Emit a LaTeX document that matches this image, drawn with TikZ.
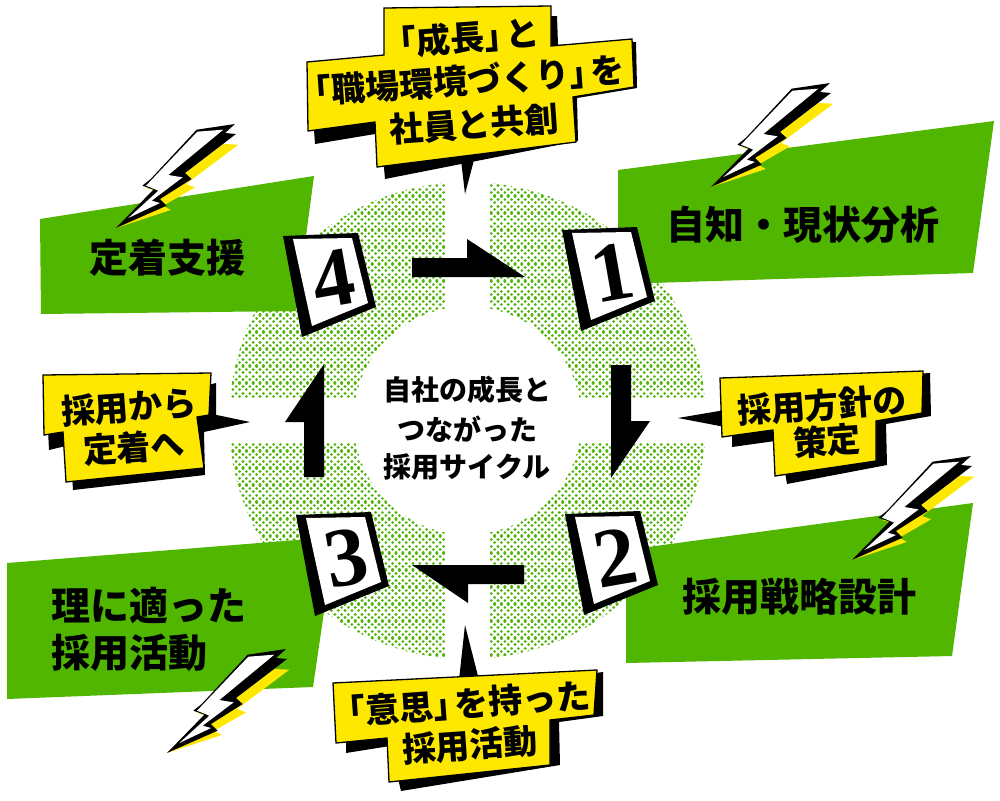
\documentclass[tikz,border=0pt]{standalone}
\usepackage{fontspec}
\newfontfamily\cjkblack{Noto Sans CJK JP Black}
\newfontfamily\cjkbold{Noto Sans CJK JP Bold}
\newfontfamily\digitfont{Liberation Serif Bold}
\definecolor{leaf}{RGB}{80,182,0}
\definecolor{dotgreen}{RGB}{80,182,8}
\definecolor{sun}{RGB}{255,232,0}
\newcommand{\tight}{\hspace{-.38em}}
\tikzset{
  greenbox/.style={fill=leaf,draw=none},
  yellowbox/.style={fill=sun,draw=black,line width=1.3pt,line join=miter},
  shadowbox/.style={fill=black,draw=none},
  greenlabel/.style={font=\cjkblack\fontsize{39}{39}\selectfont,inner sep=0pt,text=black},
  yellowlabel/.style={font=\cjkblack\fontsize{34}{34}\selectfont,inner sep=0pt,rotate=4,text=black},
  hublabel/.style={font=\cjkblack\fontsize{28}{28}\selectfont,inner sep=0pt,text=black},
  digitlabel/.style={font=\digitfont\fontsize{84}{84}\selectfont,inner sep=0pt,rotate=10,text=black},
  flow/.style={fill=black,draw=none},
  dotrow/.style={draw=dotgreen,line width=3.1pt,line cap=round,dash pattern=on 0.01pt off 6.79pt},
}
\newcommand{\numsq}[4]{%
  \begin{scope}[shift={(#2,#3)}]
    \fill[black] (0,0) -- (75,-3) -- (93,71) -- (19,101) -- cycle;
    \fill[white] (10,3) -- (69,2) -- (85,67) -- (29,90) -- cycle;
    \node[digitlabel] (#1) at (50,43) {#4};
  \end{scope}}
\newcommand{\bolt}[2]{%
  \begin{scope}[shift={(#1,#2)},x=0.3333pt,y=-0.3333pt]
    \fill[sun] (367,-250) -- (322,-252) -- (182,-147) -- (92,-119) -- (117,-113) -- (0,0) -- (164,-54) -- (142,-67) -- (237,-122) -- (210,-132) -- cycle;
    \fill[black] (0,0) -- (152,-67) -- (132,-87) -- (227,-147) -- (207,-165) -- (360,-282) -- (327,-285) -- (357,-312) -- (242,-295) -- (104,-147) -- (79,-127) -- (112,-115) -- cycle;
    \fill[white] (244,-289) -- (322,-295) -- (157,-159) -- (200,-152) -- (107,-82) -- (132,-75) -- (37,-30) -- (127,-112) -- (90,-127) -- cycle;
  \end{scope}}
\begin{document}
\begin{tikzpicture}[x=1pt,y=-1pt]
\useasboundingbox (0,0) rectangle (1000,800);
\fill[white] (0,0) rectangle (1000,800);
% dotted ring
\begin{scope}
  \clip (467.5,420.5) circle[radius=238.5];
  \foreach \j in {0,...,70} {
    \draw[dotrow] (226,{179+6.8*\j}) -- (712,{179+6.8*\j});
    \draw[dotrow] (229.4,{182.4+6.8*\j}) -- (712,{182.4+6.8*\j});
  }
\end{scope}
\fill[white] (467.5,420.5) circle[radius=114];
\fill[white] (445,170) rectangle (490,670);
\fill[white] (220,398) rectangle (715,443);
% green panels
\fill[greenbox] (618,170) -- (994,121) -- (973,273) -- (618,284) -- cycle;
\fill[greenbox] (40,219) -- (314,176) -- (296,311) -- (41,314) -- cycle;
\fill[greenbox] (626,550) -- (973,503) -- (952,656) -- (626,663) -- cycle;
\fill[greenbox] (7,563) -- (335,537) -- (313,687) -- (7,699) -- cycle;
% flow arrows
\fill[flow] (412,258) -- (467,258) -- (467,239) -- (525,277) -- (412,277) -- cycle;
\fill[flow] (611,365) -- (631,365) -- (631,421) -- (650,421) -- (611,478) -- cycle;
\fill[flow] (524,565) -- (524,584) -- (468,584) -- (468,603) -- (412,565) -- cycle;
\fill[flow] (324,364) -- (324,477) -- (304,477) -- (304,422) -- (285,422) -- cycle;
% numbered squares
\numsq{one}{562}{230}{1}
\numsq{two}{565}{514}{2}
\numsq{three}{296}{515}{3}
\numsq{four}{283}{236}{4}
% bolts
\bolt{711}{187}
\bolt{116}{228}
\bolt{852}{560}
\bolt{167}{753}
% top callout
\fill[black] (461,160) -- (474,160) -- (465,194) -- cycle;
\fill[shadowbox] (395,20) -- (557,16) -- (558,45) -- (636,42) -- (637,88) -- (577,98) -- (578,141) -- (385,179) -- (381,133) -- (315,144) -- (312,100) -- (390,70) -- cycle;
\draw[yellowbox] (384,8) -- (551,6) -- (551,46) -- (632,39) -- (634,87) -- (573,97) -- (576,142) -- (377,167) -- (375,122) -- (308,131) -- (307,62) -- (384,55) -- cycle;
\node[yellowlabel] (t1) at (461,38) {「成長」\tight と};
\node[yellowlabel] (t2) at (461,81) {「職場環境づくり」\tight を};
\node[yellowlabel] (t3) at (474,124) {社員と共創};
% right callout
\fill[black] (678,418) -- (725,410) -- (725,427) -- cycle;
\fill[shadowbox] (750,385) -- (930,373) -- (931,416) -- (886,424) -- (887,465) -- (787,484) -- (783,460) -- (775,441) -- (732,447) -- (732,430) -- cycle;
\draw[yellowbox] (720,378) -- (923,371) -- (922,413) -- (876,421) -- (876,461) -- (775,476) -- (773,430) -- (722,437) -- cycle;
\node[yellowlabel] (r1) at (822,405) {採用方針の};
\node[yellowlabel] (r2) at (827,441) {策定};
% left callout
\fill[black] (212,414) -- (250,422) -- (204,432) -- cycle;
\fill[shadowbox] (150,400) -- (216,383) -- (216,416) -- (204,432) -- (205,475) -- (73,490) -- (70,445) -- (49,450) -- (48,430) -- cycle;
\draw[yellowbox] (43,375) -- (211,373) -- (209,415) -- (197,417) -- (204,468) -- (66,482) -- (63,432) -- (44,435) -- cycle;
\node[yellowlabel] (l1) at (129,407) {採用から};
\node[yellowlabel] (l2) at (134,447) {定着へ};
% bottom callout
\fill[black] (465,625) -- (459,680) -- (479,680) -- cycle;
\fill[shadowbox] (400,700) -- (603,672) -- (603,716) -- (559,722) -- (560,765) -- (401,791) -- (396,770) -- (390,746) -- (346,753) -- (346,735) -- cycle;
\draw[yellowbox] (333,683) -- (597,670) -- (594,715) -- (550,720) -- (550,765) -- (389,782) -- (387,738) -- (336,743) -- cycle;
\node[yellowlabel] (b1) at (461,704) {「意思」\tight を持った};
\node[yellowlabel] (b2) at (470,745) {採用活動};
% hub
\node[hublabel] (h1) at (467,390) {自社の成長と};
\node[hublabel] (h2) at (467,429) {つながった};
\node[hublabel] (h3) at (467,467) {採用サイクル};
% panel labels
\node[greenlabel] (g1) at (803,225) {自知・現状分析};
\node[greenlabel] (g4) at (167,258) {定着支援};
\node[greenlabel] (g2) at (799,597) {採用戦略設計};
\node[greenlabel,anchor=west] (g3a) at (51,605) {理に適った};
\node[greenlabel,anchor=west] (g3b) at (51,653) {採用活動};
\end{tikzpicture}
\end{document}
